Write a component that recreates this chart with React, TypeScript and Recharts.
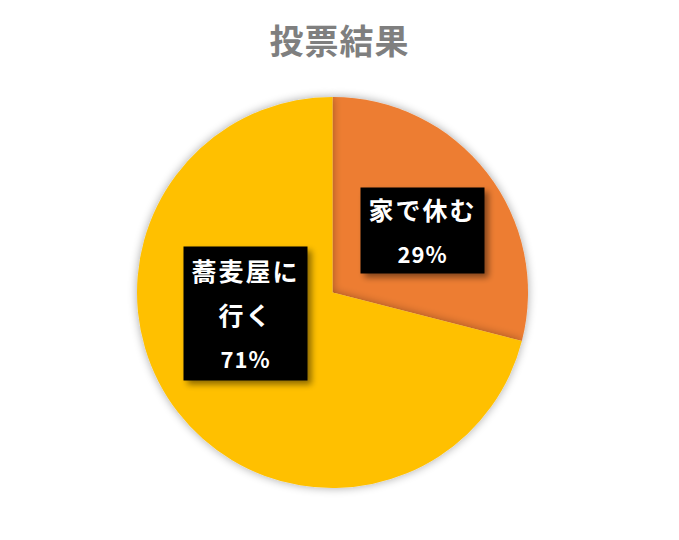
import { PieChart, Pie, Cell } from "recharts";

const names = ["家で休む", "蕎麦屋に\n行く"];
const values = [29, 71];
const COLORS = ["#ED7D31", "#FFC000"];

// label box placement relative to pie centre (dx, dy of box centre, box w/h)
const LABEL_BOXES = [
  { dx: 90, dy: -62, w: 124, h: 86 },
  { dx: -87, dy: 21, w: 124, h: 134 },
];

const data = names.map((name, i) => ({ name, value: values[i] }));

const FONT = "'Noto Sans CJK JP', 'Noto Sans', sans-serif";

function renderLabel(props: any) {
  const { cx, cy, index, percent } = props;
  const box = LABEL_BOXES[index];
  const lines = String(names[index]).split("\n");
  lines.push(Math.round(percent * 100) + "%");
  const bx = cx + box.dx;
  const by = cy + box.dy;
  const lineGap = 44;
  const top = by - ((lines.length - 1) * lineGap) / 2;
  return (
    <g key={"lbl" + index}>
      <rect
        x={bx - box.w / 2}
        y={by - box.h / 2}
        width={box.w}
        height={box.h}
        fill="#000"
        filter="url(#boxShadow)"
      />
      {lines.map((t, i) => (
        <text
          key={i}
          x={bx}
          y={top + i * lineGap}
          textAnchor="middle"
          dominantBaseline="central"
          fill="#fff"
          fontFamily={FONT}
          fontWeight="bold"
          fontSize={i === lines.length - 1 ? 22 : 25}
          letterSpacing={i === lines.length - 1 ? 1 : 2}
        >
          {t}
        </text>
      ))}
    </g>
  );
}

export default function App() {
  return (
    <div style={{ position: "absolute", left: 0, top: 0, width: 679, height: 540, background: "#fff" }}>
      <svg width={0} height={0} style={{ position: "absolute" }}>
        <defs>
          <filter id="pieShadow" x="-20%" y="-20%" width="140%" height="140%">
            <feGaussianBlur in="SourceAlpha" stdDeviation="5" />
            <feComponentTransfer>
              <feFuncA type="linear" slope="0.35" />
            </feComponentTransfer>
            <feMerge>
              <feMergeNode />
              <feMergeNode in="SourceGraphic" />
            </feMerge>
          </filter>
          <filter id="boxShadow" x="-20%" y="-20%" width="150%" height="150%">
            <feGaussianBlur in="SourceAlpha" stdDeviation="3" />
            <feOffset dx="4" dy="4" result="off" />
            <feComponentTransfer>
              <feFuncA type="linear" slope="0.45" />
            </feComponentTransfer>
            <feMerge>
              <feMergeNode />
              <feMergeNode in="SourceGraphic" />
            </feMerge>
          </filter>
        </defs>
      </svg>
      <div
        style={{
          position: "absolute",
          left: 0,
          top: 20,
          width: 679,
          textAlign: "center",
          fontFamily: FONT,
          fontWeight: "bold",
          fontSize: 34,
          letterSpacing: 1,
          color: "#7F7F7F",
          lineHeight: "40px",
        }}
      >
        <span style={{ position: "relative", left: 0 }}>投票結果</span>
      </div>
      <PieChart
        width={679}
        height={540}
        margin={{ top: 0, right: 0, bottom: 0, left: 0 }}
        style={{ position: "absolute", left: 0, top: 0 }}
      >
        <Pie
          data={data}
          dataKey="value"
          nameKey="name"
          cx={332.5}
          cy={292.5}
          outerRadius={195.5}
          startAngle={90}
          endAngle={-270}
          stroke="none"
          labelLine={false}
          label={renderLabel}
          isAnimationActive={false}
          style={{ filter: "url(#pieShadow)" }}
        >
          {data.map((_, i) => (
            <Cell key={i} fill={COLORS[i]} />
          ))}
        </Pie>
      </PieChart>
    </div>
  );
}
